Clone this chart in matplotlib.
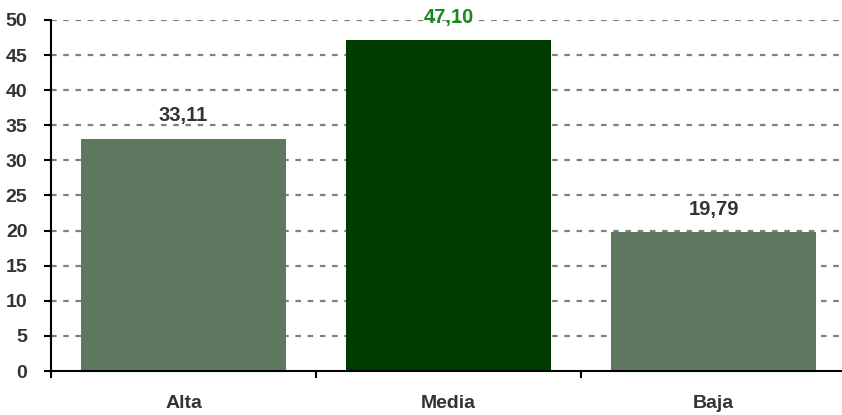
import matplotlib
matplotlib.use("Agg")
import matplotlib.pyplot as plt

categorias = ["Alta", "Media", "Baja"]
valores = [33.11, 47.10, 19.79]
colores = ["#607860", "#003c00", "#607860"]
colores_etiqueta = ["#333333", "#1a8a1a", "#333333"]

plt.rcParams["font.family"] = ["Liberation Sans", "DejaVu Sans"]

fig = plt.figure(figsize=(8.42, 4.15), dpi=100)
ax = fig.add_axes([51 / 842, 44 / 415, 795 / 842, 351 / 415])

x = range(len(categorias))
ax.bar(x, valores, width=0.77, color=colores, zorder=2)

for i, v in enumerate(valores):
    ax.annotate(f"{v:.2f}".replace(".", ","), (i, v), xytext=(0, 12.5),
                textcoords="offset points", ha="center", va="baseline",
                fontsize=14.5, fontweight="bold", color=colores_etiqueta[i],
                annotation_clip=False, zorder=3)

ax.set_xlim(-0.5, 2.5)
ax.set_ylim(0, 50)
ax.set_yticks(range(0, 51, 5))
ax.set_xticks(list(x))
ax.set_xticklabels(categorias)
ax.set_xticks([-0.5, 0.5, 1.5], minor=True)
ax.tick_params(axis="x", which="major", length=0, pad=17)
ax.tick_params(axis="x", which="minor", length=5, width=1.5, direction="out")
ax.tick_params(axis="y", length=5, width=1.5, direction="out", pad=12)
for lab in ax.get_xticklabels() + ax.get_yticklabels():
    lab.set_fontsize(14)
    lab.set_fontweight("bold")
    lab.set_color("#333333")

for yv in range(5, 51, 5):
    ax.axhline(yv, color="#808080", linestyle=(0, (2.5, 3)), linewidth=1.6, zorder=1)

ax.spines["top"].set_visible(False)
ax.spines["right"].set_visible(False)
ax.spines["left"].set_linewidth(1.5)
ax.spines["bottom"].set_linewidth(1.5)

plt.savefig("out.png", dpi=100)
plt.close()
